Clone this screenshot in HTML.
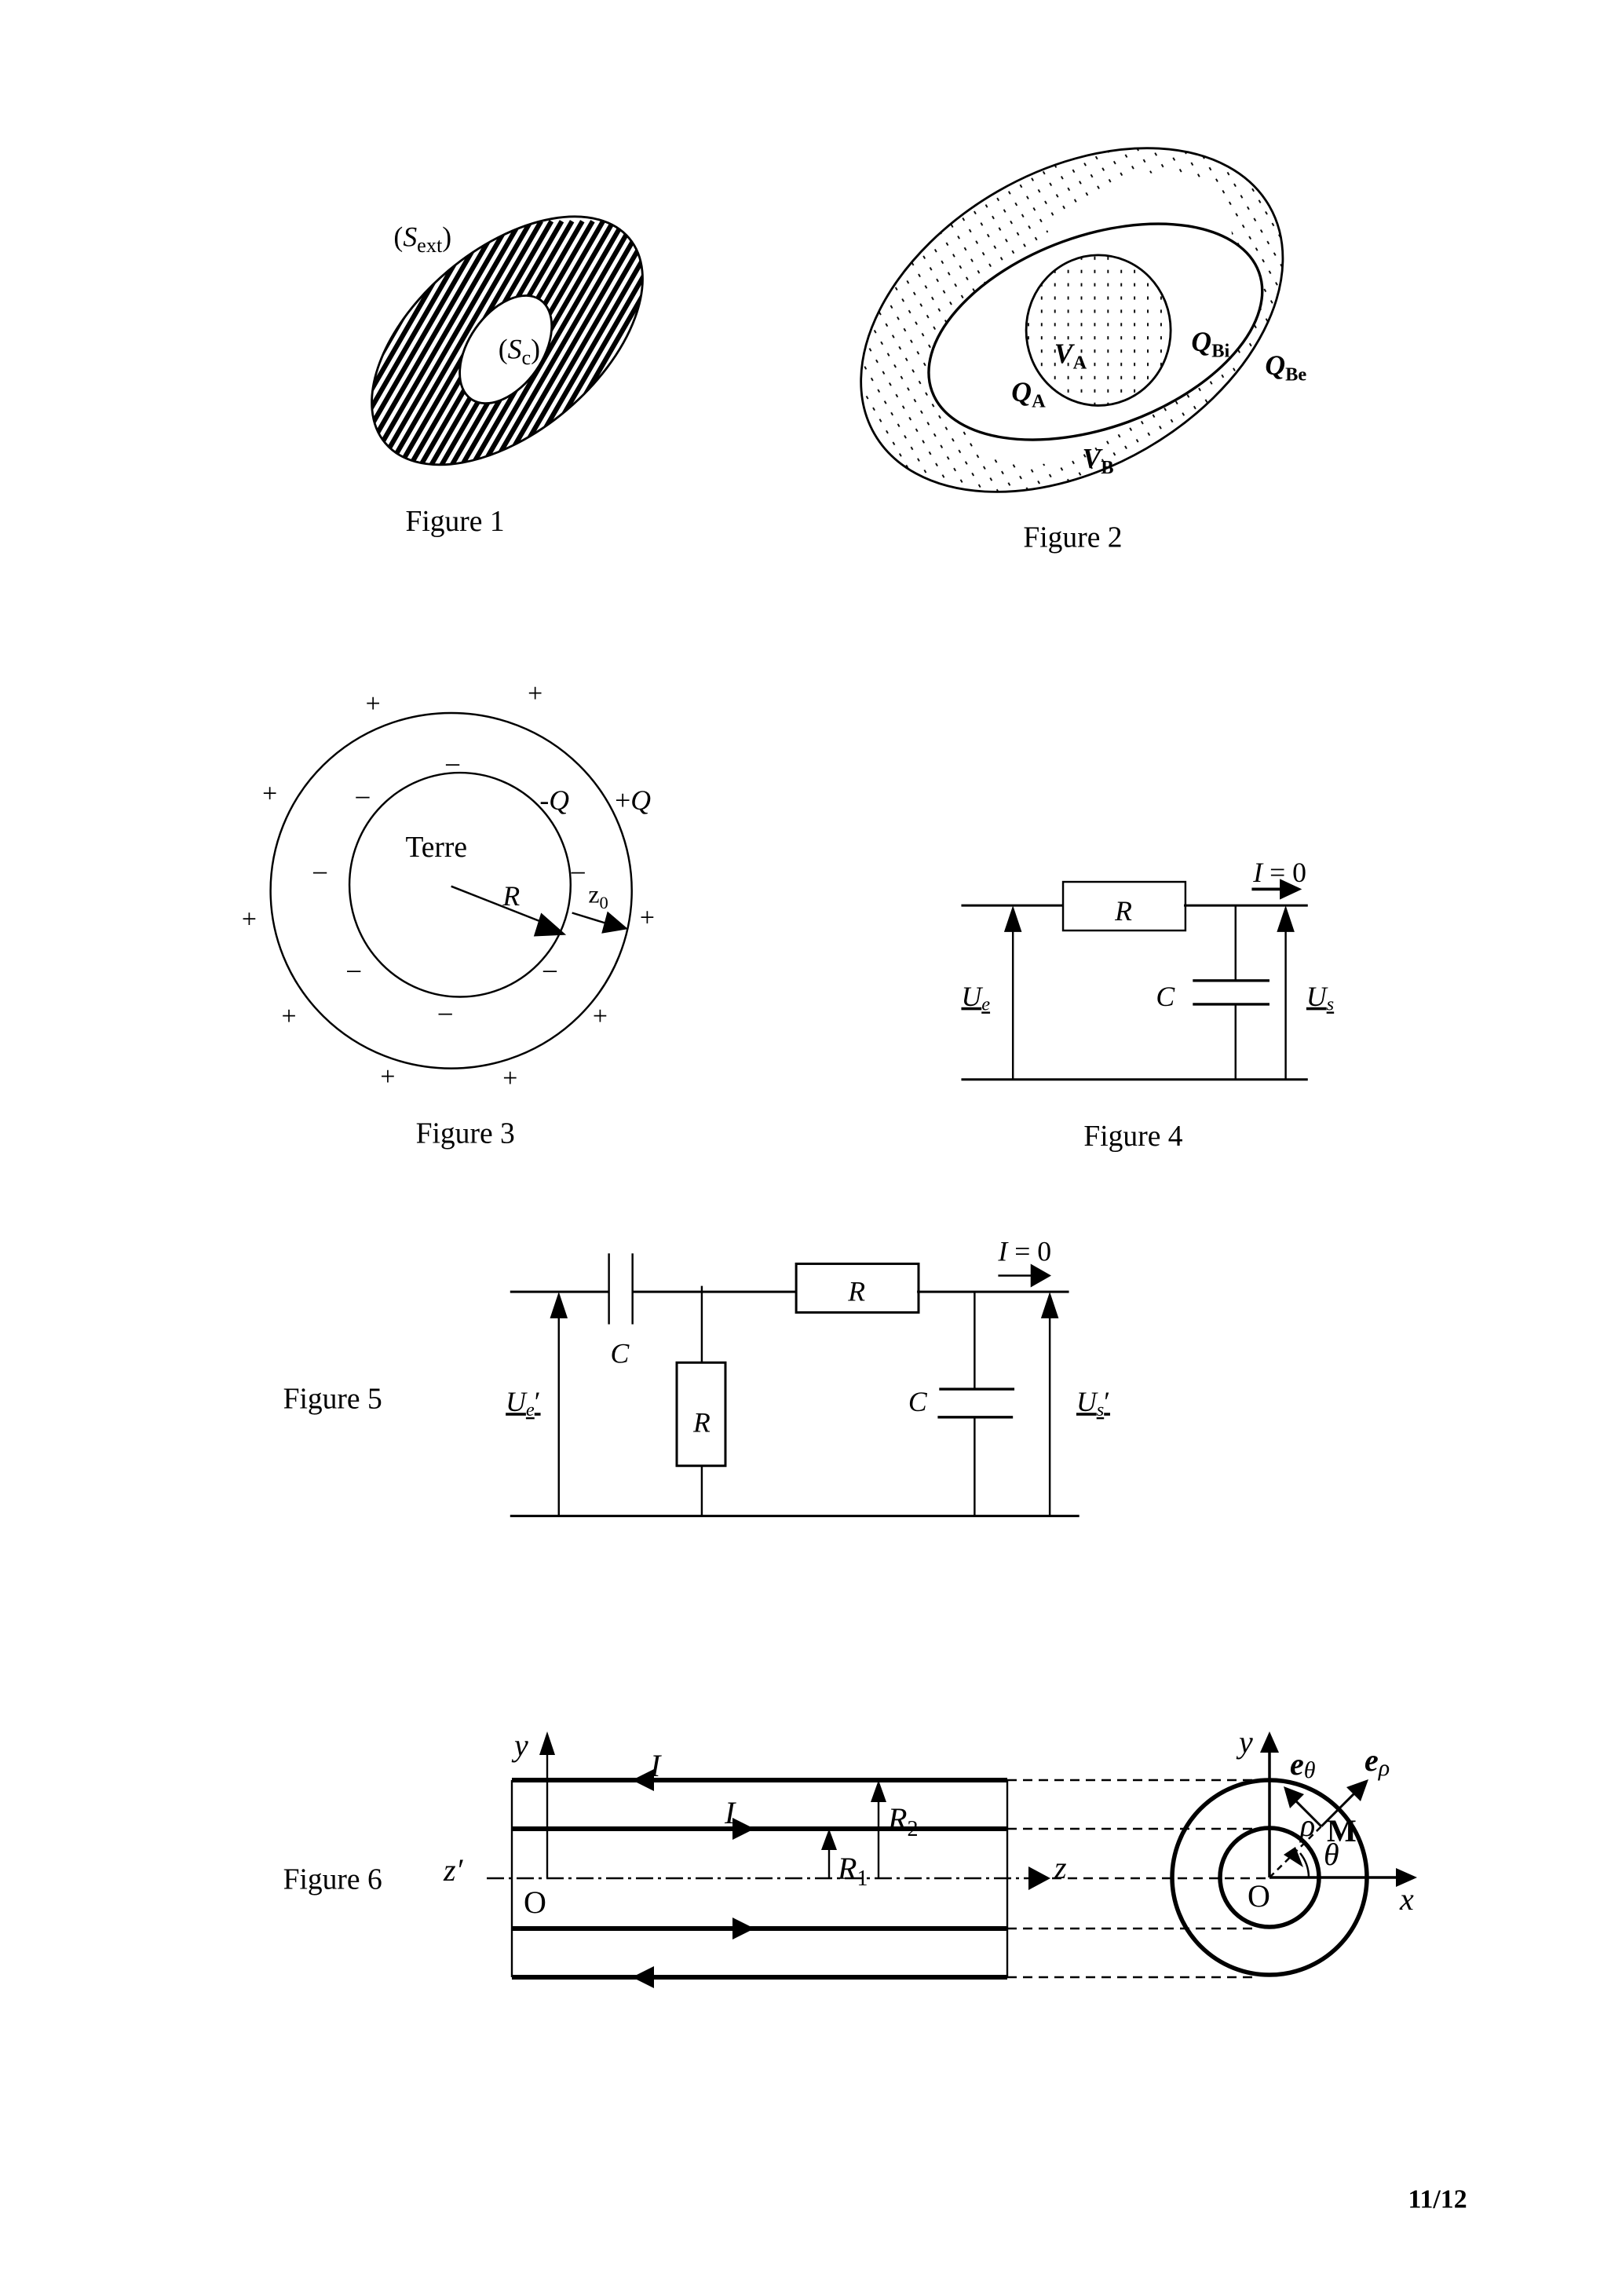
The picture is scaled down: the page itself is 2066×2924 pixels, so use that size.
<!DOCTYPE html>
<html><head><meta charset="utf-8"><style>
html,body{margin:0;padding:0;background:#fff}
svg{display:block}
text{font-family:"Liberation Serif",serif;fill:#000}
.i{font-style:italic}
.b{font-weight:bold}
</style></head><body>
<svg width="2066" height="2924" viewBox="0 0 2066 2924" xmlns="http://www.w3.org/2000/svg">
<defs>
<pattern id="dots" width="9" height="9" patternUnits="userSpaceOnUse">
<rect x="4" y="3" width="1" height="2.2" fill="#000"/>
</pattern>
<clipPath id="c1">
<ellipse cx="344" cy="231" rx="108" ry="62" transform="rotate(-40 344 231)"/>
</clipPath>
<mask id="m2">
<rect width="1100" height="1557" fill="#fff"/>
<ellipse cx="743" cy="225" rx="118" ry="65" transform="rotate(-20 743 225)" fill="#000"/>
</mask>
</defs>
<g transform="scale(1.878)">
<!-- Figure 1 -->
<g clip-path="url(#c1)">
<path stroke="#000" stroke-width="3.3" fill="none" d="M130 330l104 -180M137 330l104 -180M144 330l104 -180M151 330l104 -180M158 330l104 -180M165 330l104 -180M172 330l104 -180M179 330l104 -180M186 330l104 -180M193 330l104 -180M200 330l104 -180M207 330l104 -180M214 330l104 -180M221 330l104 -180M228 330l104 -180M235 330l104 -180M242 330l104 -180M249 330l104 -180M256 330l104 -180M263 330l104 -180M270 330l104 -180M277 330l104 -180M284 330l104 -180M291 330l104 -180M298 330l104 -180M305 330l104 -180M312 330l104 -180M319 330l104 -180M326 330l104 -180M333 330l104 -180M340 330l104 -180M347 330l104 -180M354 330l104 -180M361 330l104 -180M368 330l104 -180M375 330l104 -180M382 330l104 -180M389 330l104 -180M396 330l104 -180M403 330l104 -180M410 330l104 -180M417 330l104 -180M424 330l104 -180M431 330l104 -180M438 330l104 -180M445 330l104 -180M452 330l104 -180M459 330l104 -180"/>
</g>
<ellipse cx="344" cy="231" rx="108" ry="62" transform="rotate(-40 344 231)" fill="none" stroke="#000" stroke-width="1.5"/>
<ellipse cx="343" cy="237" rx="41" ry="25" transform="rotate(-55 343 237)" fill="#fff" stroke="#000" stroke-width="1.5"/>
<text x="267" y="167" font-size="19">(<tspan class="i">S</tspan><tspan font-size="14" dy="4">ext</tspan><tspan dy="-4">)</tspan></text>
<text x="338" y="243" font-size="19">(<tspan class="i">S</tspan><tspan font-size="14" dy="4">c</tspan><tspan dy="-4">)</tspan></text>
<text x="275" y="360" font-size="20">Figure 1</text>

<!-- Figure 2 -->
<ellipse cx="727" cy="217" rx="154.6" ry="100.7" transform="rotate(-30 727 217)" fill="url(#dots)" mask="url(#m2)" stroke="#000" stroke-width="1.5"/>
<ellipse cx="743" cy="225" rx="118" ry="65" transform="rotate(-20 743 225)" fill="#fff" stroke="#000" stroke-width="1.8"/>
<ellipse cx="745" cy="224" rx="49" ry="51" fill="url(#dots)" stroke="#000" stroke-width="1.5"/>
<text x="715" y="246" font-size="19" class="i b">V<tspan font-size="13" dy="4" font-style="normal">A</tspan></text>
<text x="808" y="238" font-size="19" class="i b">Q<tspan font-size="13" dy="4" font-style="normal">Bi</tspan></text>
<text x="858" y="254" font-size="19" class="i b">Q<tspan font-size="13" dy="4" font-style="normal">Be</tspan></text>
<text x="686" y="272" font-size="19" class="i b">Q<tspan font-size="13" dy="4" font-style="normal">A</tspan></text>
<text x="734" y="317" font-size="19" class="i b">V<tspan font-size="13" dy="4" font-style="normal">B</tspan></text>
<text x="694" y="371" font-size="20">Figure 2</text>

<!-- Figure 3 -->
<ellipse cx="306" cy="604" rx="122.5" ry="120.5" fill="none" stroke="#000" stroke-width="1.3"/>
<ellipse cx="312" cy="600" rx="75" ry="76" fill="none" stroke="#000" stroke-width="1.3"/>
<g font-size="18" text-anchor="middle">
<text x="253" y="483">+</text><text x="363" y="476">+</text><text x="183" y="544">+</text>
<text x="169" y="629">+</text><text x="196" y="695">+</text><text x="263" y="736">+</text>
<text x="346" y="737">+</text><text x="407" y="695">+</text><text x="439" y="628">+</text>
<text x="307" y="523">–</text><text x="246" y="545">–</text><text x="217" y="596">–</text>
<text x="392" y="596">–</text><text x="240" y="663">–</text><text x="373" y="663">–</text>
<text x="302" y="692">–</text>
</g>
<line x1="306" y1="601" x2="372" y2="627" stroke="#000" stroke-width="1.3"/>
<polygon points="384,634 367,619 362,635" fill="#000"/>
<line x1="388" y1="619" x2="414" y2="627" stroke="#000" stroke-width="1.3"/>
<polygon points="426,630 412,618 408,633" fill="#000"/>
<text x="275" y="581" font-size="20">Terre</text>
<text x="341" y="614" font-size="19" class="i">R</text>
<text x="399" y="612" font-size="17">z<tspan font-size="12" dy="4">0</tspan></text>
<text x="366" y="549" font-size="19">-<tspan class="i">Q</tspan></text>
<text x="417" y="549" font-size="19">+<tspan class="i">Q</tspan></text>
<text x="282" y="775" font-size="20">Figure 3</text>

<!-- Figure 4 -->
<g stroke="#000" stroke-width="1.3" fill="none">
<line x1="652" y1="614" x2="721" y2="614" stroke-width="1.6"/>
<line x1="803" y1="614" x2="887" y2="614" stroke-width="1.6"/>
<rect x="721" y="598" width="83" height="33"/>
<line x1="652" y1="732" x2="887" y2="732" stroke-width="1.6"/>
<line x1="687" y1="732" x2="687" y2="630"/>
<line x1="838" y1="614" x2="838" y2="665"/>
<line x1="838" y1="681" x2="838" y2="732"/>
<line x1="809" y1="665" x2="861" y2="665" stroke-width="1.8"/>
<line x1="809" y1="681" x2="861" y2="681" stroke-width="1.8"/>
<line x1="872" y1="732" x2="872" y2="630"/>
<line x1="849" y1="603" x2="870" y2="603" stroke-width="2"/>
</g>
<polygon points="687,614 681,632 693,632" fill="#000"/>
<polygon points="872,614 866,632 878,632" fill="#000"/>
<polygon points="883,603 868,596 868,610" fill="#000"/>
<text x="762" y="624" font-size="19" class="i" text-anchor="middle">R</text>
<text x="850" y="598" font-size="19"><tspan class="i">I</tspan> = 0</text>
<text x="652" y="682" font-size="19" class="i" text-decoration="underline">U<tspan font-size="13" dy="3">e</tspan></text>
<text x="784" y="682" font-size="19" class="i">C</text>
<text x="886" y="682" font-size="19" class="i" text-decoration="underline">U<tspan font-size="13" dy="3">s</tspan></text>
<text x="735" y="777" font-size="20">Figure 4</text>

<!-- Figure 5 -->
<g stroke="#000" stroke-width="1.3" fill="none">
<line x1="346" y1="876" x2="413" y2="876" stroke-width="1.6"/>
<line x1="429" y1="876" x2="540" y2="876" stroke-width="1.6"/>
<line x1="622" y1="876" x2="725" y2="876" stroke-width="1.6"/>
<line x1="413" y1="850" x2="413" y2="898"/>
<line x1="429" y1="850" x2="429" y2="898"/>
<rect x="540" y="857" width="83" height="33" stroke-width="1.6"/>
<line x1="476" y1="872" x2="476" y2="924"/>
<rect x="459" y="924" width="33" height="70" stroke-width="1.6"/>
<line x1="476" y1="994" x2="476" y2="1028"/>
<line x1="346" y1="1028" x2="732" y2="1028" stroke-width="1.6"/>
<line x1="379" y1="1028" x2="379" y2="893"/>
<line x1="661" y1="876" x2="661" y2="942"/>
<line x1="661" y1="961" x2="661" y2="1028"/>
<line x1="637" y1="942" x2="688" y2="942" stroke-width="1.8"/>
<line x1="636" y1="961" x2="687" y2="961" stroke-width="1.8"/>
<line x1="712" y1="1028" x2="712" y2="893"/>
<line x1="677" y1="865" x2="700" y2="865" stroke-width="1.3"/>
</g>
<polygon points="379,876 373,894 385,894" fill="#000"/>
<polygon points="712,876 706,894 718,894" fill="#000"/>
<polygon points="713,865 699,857 699,873" fill="#000"/>
<text x="581" y="882" font-size="19" class="i" text-anchor="middle">R</text>
<text x="476" y="971" font-size="19" class="i" text-anchor="middle">R</text>
<text x="677" y="855" font-size="19"><tspan class="i">I</tspan> = 0</text>
<text x="414" y="924" font-size="19" class="i">C</text>
<text x="616" y="957" font-size="19" class="i">C</text>
<text x="343" y="957" font-size="19" class="i" text-decoration="underline">U<tspan font-size="13" dy="3">e</tspan><tspan dy="-3" font-style="normal">′</tspan></text>
<text x="730" y="957" font-size="19" class="i" text-decoration="underline">U<tspan font-size="13" dy="3">s</tspan><tspan dy="-3" font-style="normal">′</tspan></text>
<text x="192" y="955" font-size="20">Figure 5</text>
<text x="192" y="1281" font-size="20">Figure 6</text>
<text x="955" y="1497" font-size="18" class="b">11/12</text>
</g>

<!-- Figure 6 in full coords -->
<g stroke="#000" fill="none">
<line x1="652" y1="2267" x2="652" y2="2518" stroke-width="2.4"/>
<line x1="1283" y1="2267" x2="1283" y2="2518" stroke-width="2.4"/>
<line x1="652" y1="2267" x2="1283" y2="2267" stroke-width="6"/>
<line x1="652" y1="2329" x2="1283" y2="2329" stroke-width="6"/>
<line x1="652" y1="2456" x2="1283" y2="2456" stroke-width="6"/>
<line x1="652" y1="2518" x2="1283" y2="2518" stroke-width="6"/>
<line x1="620" y1="2392" x2="1310" y2="2392" stroke-width="2.4" stroke-dasharray="22,6,4,6"/>
<line x1="1340" y1="2392" x2="1617" y2="2392" stroke-width="2.4" stroke-dasharray="12,8"/>
<line x1="1283" y1="2267" x2="1595" y2="2267" stroke-width="2.4" stroke-dasharray="12,8"/>
<line x1="1283" y1="2329" x2="1600" y2="2329" stroke-width="2.4" stroke-dasharray="12,8"/>
<line x1="1283" y1="2456" x2="1600" y2="2456" stroke-width="2.4" stroke-dasharray="12,8"/>
<line x1="1283" y1="2518" x2="1595" y2="2518" stroke-width="2.4" stroke-dasharray="12,8"/>
<line x1="697" y1="2392" x2="697" y2="2230" stroke-width="2.4"/>
<line x1="1119" y1="2392" x2="1119" y2="2290" stroke-width="2.4"/>
<line x1="1056" y1="2392" x2="1056" y2="2352" stroke-width="2.4"/>
<circle cx="1617" cy="2391" r="124" stroke-width="5.5"/>
<circle cx="1617" cy="2391" r="63" stroke-width="5.5"/>
<line x1="1617" y1="2391" x2="1617" y2="2230" stroke-width="3.5"/>
<line x1="1617" y1="2391" x2="1780" y2="2391" stroke-width="3.5"/>
<line x1="1617" y1="2391" x2="1683" y2="2326" stroke-width="2.5" stroke-dasharray="8,6"/>
<line x1="1683" y1="2326" x2="1730" y2="2279" stroke-width="3"/>
<line x1="1683" y1="2326" x2="1648" y2="2291" stroke-width="3"/>
<path d="M1667 2391 A50 50 0 0 0 1656 2360" stroke-width="2.5"/>
</g>
<g fill="#000">
<polygon points="1338,2392 1310,2377 1310,2407"/>
<polygon points="697,2205 687,2235 707,2235"/>
<polygon points="1119,2267 1109,2295 1129,2295"/>
<polygon points="1056,2329 1046,2356 1066,2356"/>
<polygon points="805,2267 833,2253 833,2281"/>
<polygon points="805,2518 833,2504 833,2532"/>
<polygon points="961,2329 933,2315 933,2343"/>
<polygon points="961,2456 933,2442 933,2470"/>
<polygon points="1617,2205 1605,2232 1629,2232"/>
<polygon points="1805,2391 1778,2379 1778,2403"/>
<polygon points="1743,2266 1715,2276 1733,2294"/>
<polygon points="1635,2275 1643,2303 1661,2285"/>
<polygon points="1650,2352 1635,2362 1660,2378"/>
</g>
<g font-size="40">
<text x="655" y="2236" class="i">y</text>
<text x="828" y="2262" class="i">I</text>
<text x="923" y="2322" class="i">I</text>
<text x="1131" y="2330" class="i">R<tspan font-size="28" dy="8" font-style="normal">2</tspan></text>
<text x="1067" y="2393" class="i">R<tspan font-size="28" dy="8" font-style="normal">1</tspan></text>
<text x="565" y="2395" class="i">z′</text>
<text x="667" y="2436">O</text>
<text x="1343" y="2392" class="i">z</text>
<text x="1578" y="2232" class="i">y</text>
<text x="1643" y="2260" class="i b">e<tspan font-size="30" dy="4" font-weight="normal">θ</tspan></text>
<text x="1738" y="2255" class="i b">e<tspan font-size="30" dy="6" font-weight="normal">ρ</tspan></text>
<text x="1656" y="2338" class="i">ρ</text>
<text x="1690" y="2345" class="b">M</text>
<text x="1686" y="2375" class="i">θ</text>
<text x="1589" y="2428">O</text>
<text x="1783" y="2432" class="i">x</text>
</g>
</svg>
</body></html>
